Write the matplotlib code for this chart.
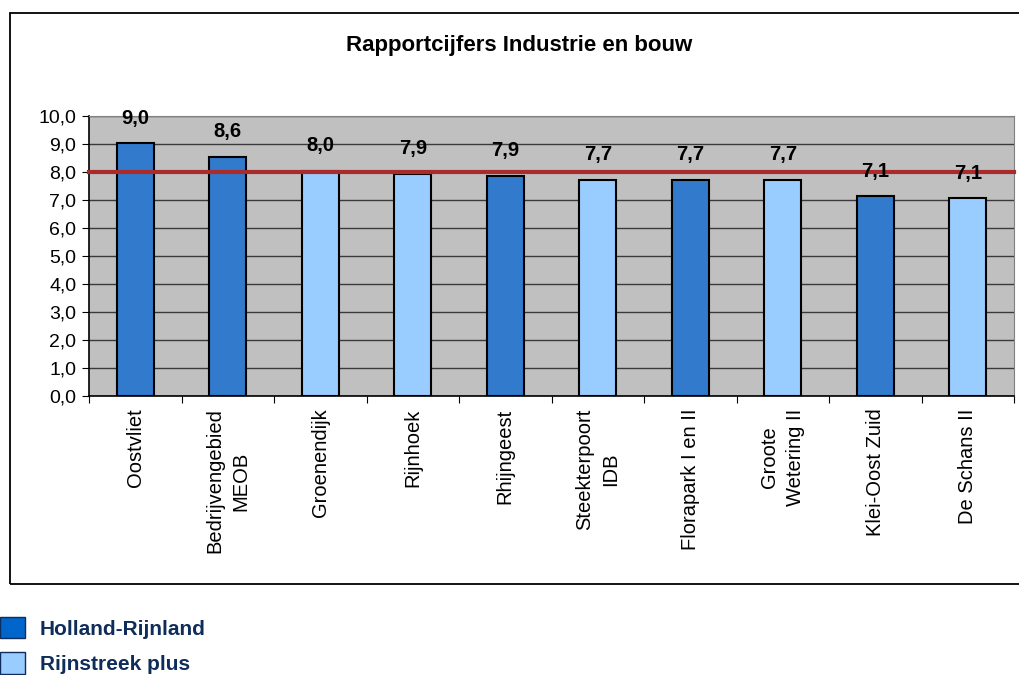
import matplotlib.pyplot as plt
from matplotlib.patches import Patch, Rectangle

# Data
locaties = ['Oostvliet', 'Bedrijvengebied\nMEOB', 'Groenendijk', 'Rijnhoek', 'Rhijngeest',
            'Steekterpoort\nIDB', 'Florapark I en II', 'Groote\nWetering II',
            'Klei-Oost Zuid', 'De Schans II']
cijfers = [9.03, 8.55, 8.04, 7.93, 7.86, 7.72, 7.72, 7.72, 7.14, 7.07]
regio = ['HR', 'HR', 'RP', 'RP', 'HR', 'RP', 'HR', 'RP', 'HR', 'RP']
gemiddelde = 8.0

kleuren = {'HR': '#317ACC', 'RP': '#99CCFF'}
plt.rcParams['font.family'] = ['Liberation Sans', 'DejaVu Sans']

fig = plt.figure(figsize=(10.2, 6.75), dpi=100)
ax = fig.add_axes([89 / 1020, 1 - 396 / 675, 925 / 1020, 280 / 675])
ax.set_facecolor('#C0C0C0')

x = list(range(len(locaties)))
ax.bar(x, cijfers, width=0.4, color=[kleuren[r] for r in regio],
       edgecolor='black', linewidth=1.5, zorder=3)

# Waardelabels
for xi, v in zip(x, cijfers):
    ax.annotate(f'{v:.1f}'.replace('.', ','), (xi, v), xytext=(0, 18),
                textcoords='offset points', ha='center', va='center',
                fontsize=14.5, fontweight='bold', zorder=5)

ax.axhline(gemiddelde, color='#AA2B2B', linewidth=3, zorder=4, clip_on=False)

ax.set_xlim(-0.5, len(locaties) - 0.5)
ax.set_ylim(0, 10)
ax.set_yticks(range(0, 11))
ax.set_yticklabels([f'{t},0' for t in range(0, 11)], fontsize=14)
ax.yaxis.grid(True, color='#3A3A3A', linewidth=1)
ax.set_axisbelow(True)

ax.set_xticks([i + 0.5 for i in range(-1, len(locaties))], minor=False)
ax.set_xticklabels([])
ax.set_xticks(x, minor=True)
ax.set_xticklabels(locaties, minor=True, rotation=90, fontsize=14.5,
                   va='top', ha='center', multialignment='center', linespacing=1.45)
ax.tick_params(axis='x', which='minor', length=0, pad=9)
ax.tick_params(axis='x', which='major', length=5, direction='out')
ax.tick_params(axis='y', length=5, direction='out', pad=4)

for s in ['top', 'right']:
    ax.spines[s].set_color('#808080')
for s in ['left', 'bottom']:
    ax.spines[s].set_color('black')
    ax.spines[s].set_linewidth(1.2)

fig.text(519 / 1020, 1 - 45 / 675, 'Rapportcijfers Industrie en bouw',
         ha='center', va='center', fontsize=16, fontweight='bold')

# Kader om de grafiek
fig.patches.append(Rectangle((10 / 1020, 1 - 584 / 675), 1.02, 571 / 675,
                             transform=fig.transFigure, fill=False,
                             edgecolor='black', linewidth=1.3))

handles = [Patch(facecolor='#0066CC', edgecolor='#0F2D5A', label='Holland-Rijnland'),
           Patch(facecolor='#99CCFF', edgecolor='#0F2D5A', label='Rijnstreek plus')]
leg = fig.legend(handles=handles, loc='upper left', bbox_to_anchor=(0.0, 1 - 617 / 675),
                 frameon=False, fontsize=15, handlelength=1.2, handleheight=1.2,
                 labelspacing=0.65, handletextpad=0.7, borderaxespad=0, borderpad=0)
for t in leg.get_texts():
    t.set_color('#0F2D5A')
    t.set_fontweight('bold')

fig.savefig('out.png', dpi=100)
